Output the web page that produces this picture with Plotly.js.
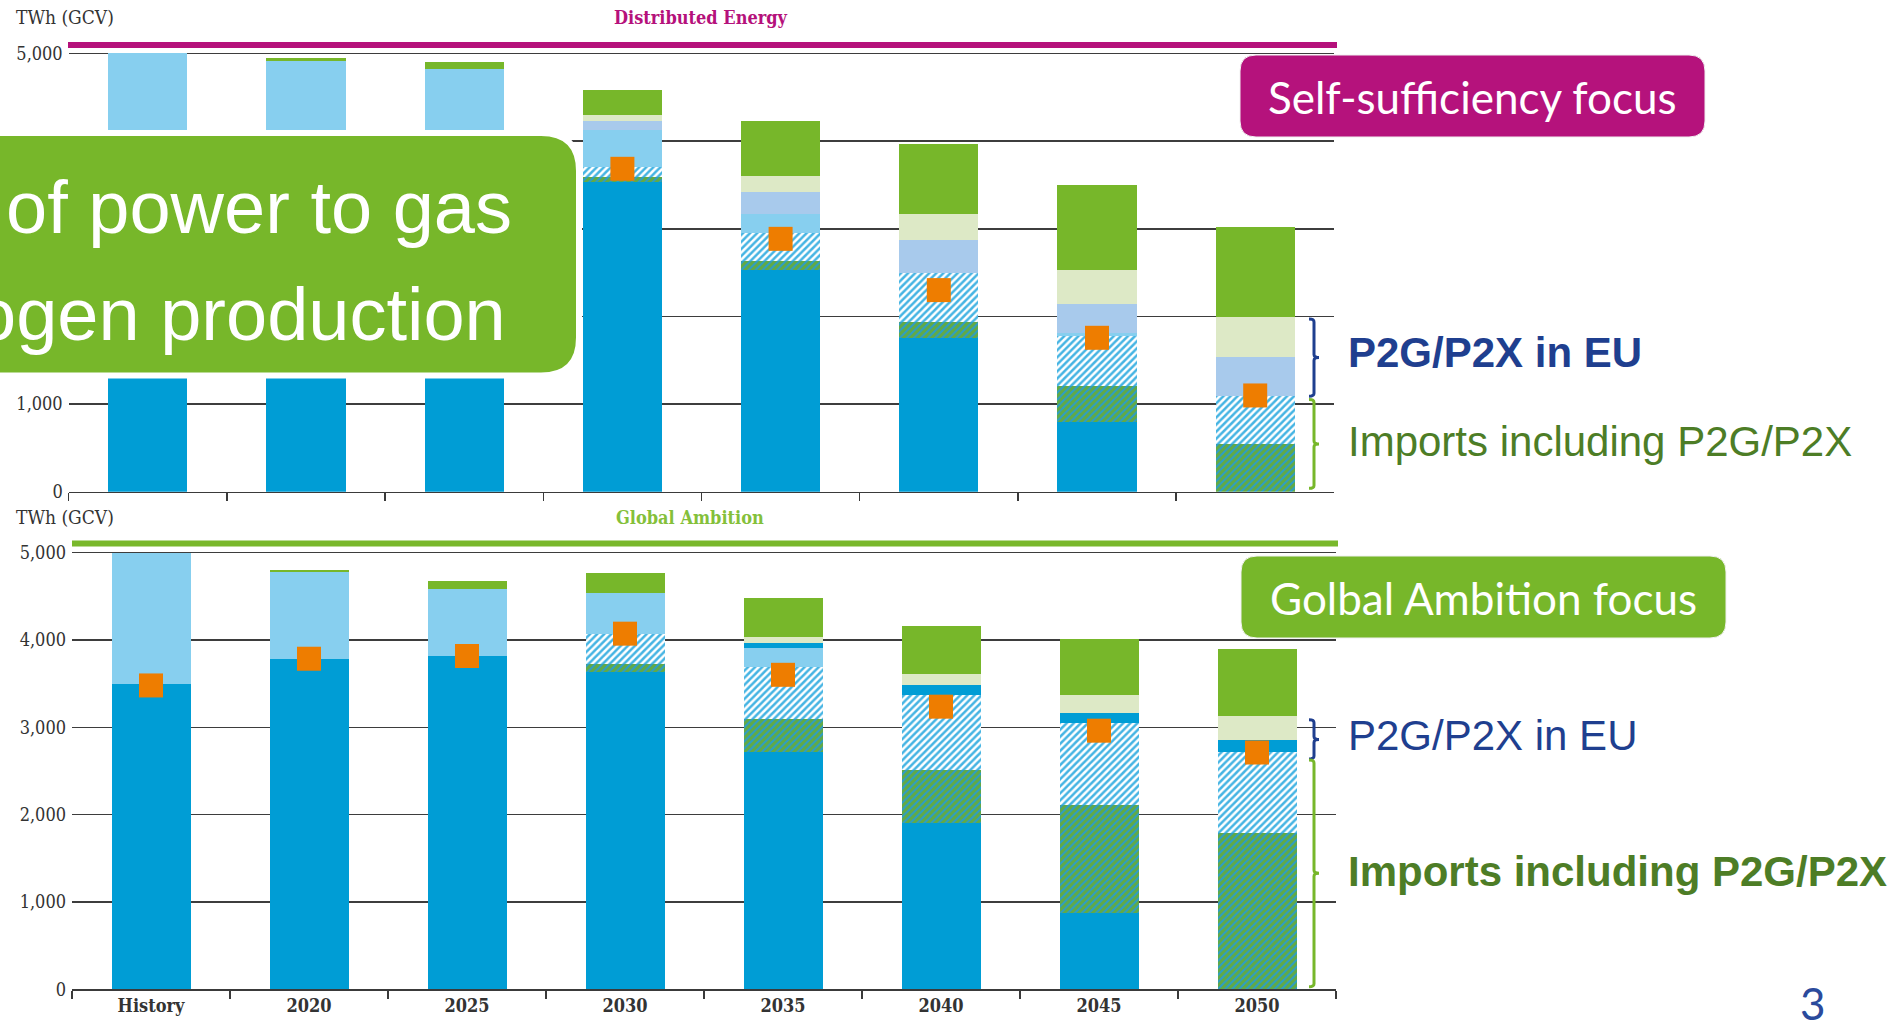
<!DOCTYPE html>
<html>
<head>
<meta charset="utf-8">
<script src="https://cdn.plot.ly/plotly-3.0.1.min.js"></script>
<style>
  html, body { margin: 0; padding: 0; background: #ffffff; overflow: hidden; }
  #chart { width: 1902px; height: 1033px; }
</style>
</head>
<body>
<div id="chart"></div>
<script>
// ---------------- DATA ----------------
const categories = ['History', '2020', '2025', '2030', '2035', '2040', '2045', '2050'];
const yTickVals = [0, 1000, 2000, 3000, 4000, 5000];
const yTickTextTop = ['0', '1,000', '', '', '', '5,000'];      // 2,000-4,000 hidden behind the banner in the reference
const yTickTextBottom = ['0', '1,000', '2,000', '3,000', '4,000', '5,000'];

// Distributed Energy scenario (top panel), TWh (GCV)
const deBase          = [3500, 3786, 3817, 3538, 2531, 1759,  793,    0];
const deImpHatchGreen = [   0,    0,    0,   56,  104,  177,  410,  548];
const deImpHatchBlue  = [   0,    0,    0,  113,  320,  564,  575,  542];
const deLightBlue     = [1500, 1130, 1004,  424,  218,    0,   38,    0];
const dePaleBlue      = [   0,    0,    0,  100,  241,  369,  330,  444];
const dePaleGreen     = [   0,    0,    0,   65,  188,  304,  385,  458];
const deGreen         = [   0,   27,   84,  289,  629,  797,  969, 1031];
const deMarker        = [3480, 3786, 3817, 3684, 2885, 2300, 1756, 1098];

// Global Ambition scenario (bottom panel), TWh (GCV)
const gaBase          = [3500, 3786, 3817, 3639, 2719, 1906,  877,    0];
const gaImpHatchGreen = [   0,    0,    0,   87,  375,  606, 1231, 1785];
const gaImpHatchBlue  = [   0,    0,    0,  347,  601,  864,  941,  930];
const gaLightBlue     = [1500,  992,  766,  464,  219,    0,    0,    0];
const gaP2XBlue       = [   0,    0,    0,    0,   56,  105,  113,  143];
const gaPaleGreen     = [   0,    0,    0,    0,   69,  132,  203,  277];
const gaGreen         = [   0,   27,   94,  235,  440,  549,  650,  760];
const gaMarker        = [3480, 3786, 3817, 4073, 3602, 3237, 2962, 2712];

// brace spans (value ranges on the y axes)
const deBraceEU      = [1090, 1970];
const deBraceImports = [38, 1053];
const gaBraceEU      = [2638, 3086];
const gaBraceImports = [30, 2627];

// ---------------- STYLE / LAYOUT HELPERS ----------------
const W = 1902, H = 1033;
const px = x => x / W;
const py = y => 1 - y / H;

const SERIF = '"DejaVu Serif Condensed", "DejaVu Serif", serif';
const SANS = '"Liberation Sans", Arial, sans-serif';
const CAL = 'Lato, "Noto Sans", sans-serif';

const C = {
  base: '#009dd5',
  light: '#87cfef',
  pale: '#a8caec',
  paleGreen: '#dde9c6',
  green: '#77b72a',
  orange: '#ee7d00',
  magenta: '#b5117b'
};

function bar(x, y, xa, ya, color, pattern) {
  const t = {
    type: 'bar', x: x, y: y, xaxis: xa, yaxis: ya,
    marker: { color: color, line: { width: 0 } },
    hoverinfo: 'skip', showlegend: false
  };
  if (pattern) t.marker.pattern = pattern;
  return t;
}
const hatchBlue = { shape: '/', bgcolor: '#ffffff', fgcolor: '#45b4e3', size: 5, solidity: 0.5, fillmode: 'replace' };
const hatchGreen = { shape: '/', bgcolor: '#62aa44', fgcolor: '#2a9dcc', size: 5, solidity: 0.4, fillmode: 'replace' };

function panel(xa, ya, base, hg, hb, light, mid, midColor, paleG, green, marker) {
  return [
    bar(categories, base, xa, ya, C.base),
    bar(categories, hg, xa, ya, '#62aa44', hatchGreen),
    bar(categories, hb, xa, ya, '#ffffff', hatchBlue),
    bar(categories, light, xa, ya, C.light),
    bar(categories, mid, xa, ya, midColor),
    bar(categories, paleG, xa, ya, C.paleGreen),
    bar(categories, green, xa, ya, C.green),
    {
      type: 'scatter', mode: 'markers', x: categories, y: marker, xaxis: xa, yaxis: ya,
      marker: { symbol: 'square', size: 24, color: C.orange, line: { width: 0 } },
      hoverinfo: 'skip', showlegend: false, cliponaxis: false
    }
  ];
}

const traces = [].concat(
  panel('x', 'y', deBase, deImpHatchGreen, deImpHatchBlue, deLightBlue, dePaleBlue, C.pale, dePaleGreen, deGreen, deMarker),
  panel('x2', 'y2', gaBase, gaImpHatchGreen, gaImpHatchBlue, gaLightBlue, gaP2XBlue, C.base, gaPaleGreen, gaGreen, gaMarker)
);

function xAxis(domain, anchor, showLabels) {
  return {
    domain: domain, anchor: anchor, type: 'category', range: [-0.5, 7.5],
    showline: true, linecolor: '#3a3a3a', linewidth: 1.5,
    ticks: 'outside', tickson: 'boundaries', ticklen: 8, tickwidth: 1.5, tickcolor: '#3a3a3a',
    showticklabels: showLabels, showgrid: false, zeroline: false, fixedrange: true,
    tickfont: { family: SERIF, size: 18, color: '#333333', weight: 'bold' }
  };
}
function yAxis(domain, anchor, tickText) {
  return {
    domain: domain, anchor: anchor, range: [0, 5100],
    tickmode: 'array', tickvals: yTickVals, ticktext: tickText,
    showgrid: true, gridcolor: '#3d3d3d', gridwidth: 1.5,
    zeroline: false, showline: false, ticks: '', ticklabelstandoff: 5,
    tickfont: { family: SERIF, size: 18, color: '#333333' }, fixedrange: true
  };
}

function rrect(x0, y0, x1, y1, r) {
  const P = (x, y) => px(x) + ',' + py(y);
  return 'M' + P(x0 + r, y0) + ' L' + P(x1 - r, y0) + ' Q' + P(x1, y0) + ' ' + P(x1, y0 + r) +
    ' L' + P(x1, y1 - r) + ' Q' + P(x1, y1) + ' ' + P(x1 - r, y1) +
    ' L' + P(x0 + r, y1) + ' Q' + P(x0, y1) + ' ' + P(x0, y1 - r) +
    ' L' + P(x0, y0 + r) + ' Q' + P(x0, y0) + ' ' + P(x0 + r, y0) + ' Z';
}
function brace(xPix, span, yref, color) {
  const lo = span[0], hi = span[1], mid = (lo + hi) / 2, d = 34;
  const X = v => px(v);
  const path = 'M' + X(xPix - 5) + ',' + hi + ' Q' + X(xPix) + ',' + hi + ' ' + X(xPix) + ',' + (hi - d) +
    ' L' + X(xPix) + ',' + (mid + d) + ' Q' + X(xPix) + ',' + mid + ' ' + X(xPix + 5) + ',' + mid +
    ' Q' + X(xPix) + ',' + mid + ' ' + X(xPix) + ',' + (mid - d) +
    ' L' + X(xPix) + ',' + (lo + d) + ' Q' + X(xPix) + ',' + lo + ' ' + X(xPix - 5) + ',' + lo;
  return { type: 'path', xref: 'paper', yref: yref, path: path, line: { color: color, width: 3 }, layer: 'above' };
}

const shapes = [
  { type: 'line', xref: 'paper', yref: 'paper', x0: px(68), x1: px(1337), y0: py(45), y1: py(45),
    line: { color: C.magenta, width: 6 }, layer: 'above' },
  { type: 'line', xref: 'paper', yref: 'paper', x0: px(72), x1: px(1338), y0: py(543.5), y1: py(543.5),
    line: { color: '#79b82b', width: 6 }, layer: 'above' },
  { type: 'path', xref: 'paper', yref: 'paper', path: rrect(-60, 133, 579, 375.5, 38),
    fillcolor: C.green, line: { color: '#ffffff', width: 6 }, layer: 'above' },
  { type: 'path', xref: 'paper', yref: 'paper', path: rrect(1240, 55, 1705, 137, 16),
    fillcolor: '#b5127c', line: { color: '#f0f0f0', width: 1 }, layer: 'above' },
  { type: 'path', xref: 'paper', yref: 'paper', path: rrect(1241, 556, 1726, 638, 16),
    fillcolor: C.green, line: { color: '#f0f0f0', width: 1 }, layer: 'above' },
  brace(1314, deBraceEU, 'y', '#1f3f8f'),
  brace(1314, deBraceImports, 'y', '#77b72a'),
  brace(1314, gaBraceEU, 'y2', '#1f3f8f'),
  brace(1314, gaBraceImports, 'y2', '#77b72a')
];

function note(text, x, y, font, xanchor) {
  return { text: text, xref: 'paper', yref: 'paper', x: px(x), y: py(y),
    xanchor: xanchor || 'center', yanchor: 'middle', showarrow: false, font: font };
}

const annotations = [
  note('TWh (GCV)', 14, 17, { family: SERIF, size: 19, color: '#333333' }, 'left'),
  note('TWh (GCV)', 14, 517, { family: SERIF, size: 19, color: '#333333' }, 'left'),
  note('<b>Distributed Energy</b>', 701, 17, { family: SERIF, size: 18, color: C.magenta }),
  note('<b>Global Ambition</b>', 690, 517, { family: SERIF, size: 18, color: '#84c03a' }),
  note('of power to gas', 4, 207, { family: SANS, size: 74, color: '#ffffff' }, 'left'),
  note('ogen production', 508, 314, { family: SANS, size: 74, color: '#ffffff' }, 'right'),
  note('Self-sufficiency focus', 1472, 97, { family: CAL, size: 44, color: '#ffffff' }),
  note('Golbal Ambition focus', 1483, 598, { family: CAL, size: 44, color: '#ffffff' }),
  note('<b>P2G/P2X in EU</b>', 1346, 352, { family: SANS, size: 42, color: '#1f3f8f' }, 'left'),
  note('Imports including P2G/P2X', 1346, 441, { family: SANS, size: 42, color: '#4d7d26' }, 'left'),
  note('P2G/P2X in EU', 1346, 735, { family: SANS, size: 42, color: '#1f3f8f' }, 'left'),
  note('<b>Imports including P2G/P2X</b>', 1346, 871, { family: SANS, size: 42, color: '#4d7d26' }, 'left'),
  note('3', 1813, 1003, { family: CAL, size: 44, color: '#2b4a9c' })
];

const layout = {
  width: W, height: H,
  margin: { l: 0, r: 0, t: 0, b: 0, pad: 0 },
  paper_bgcolor: '#ffffff', plot_bgcolor: 'rgba(0,0,0,0)',
  barmode: 'stack', bargap: 0.5,
  showlegend: false, hovermode: false,
  xaxis: xAxis([px(68.7), px(1334.3)], 'y', false),
  yaxis: yAxis([py(491.7), py(44.7)], 'x', yTickTextTop),
  xaxis2: xAxis([px(72), px(1336)], 'y2', true),
  yaxis2: yAxis([py(989.3), py(544)], 'x2', yTickTextBottom),
  shapes: shapes,
  annotations: annotations
};

Plotly.newPlot('chart', traces, layout, { staticPlot: true, displayModeBar: false });
</script>
</body>
</html>
